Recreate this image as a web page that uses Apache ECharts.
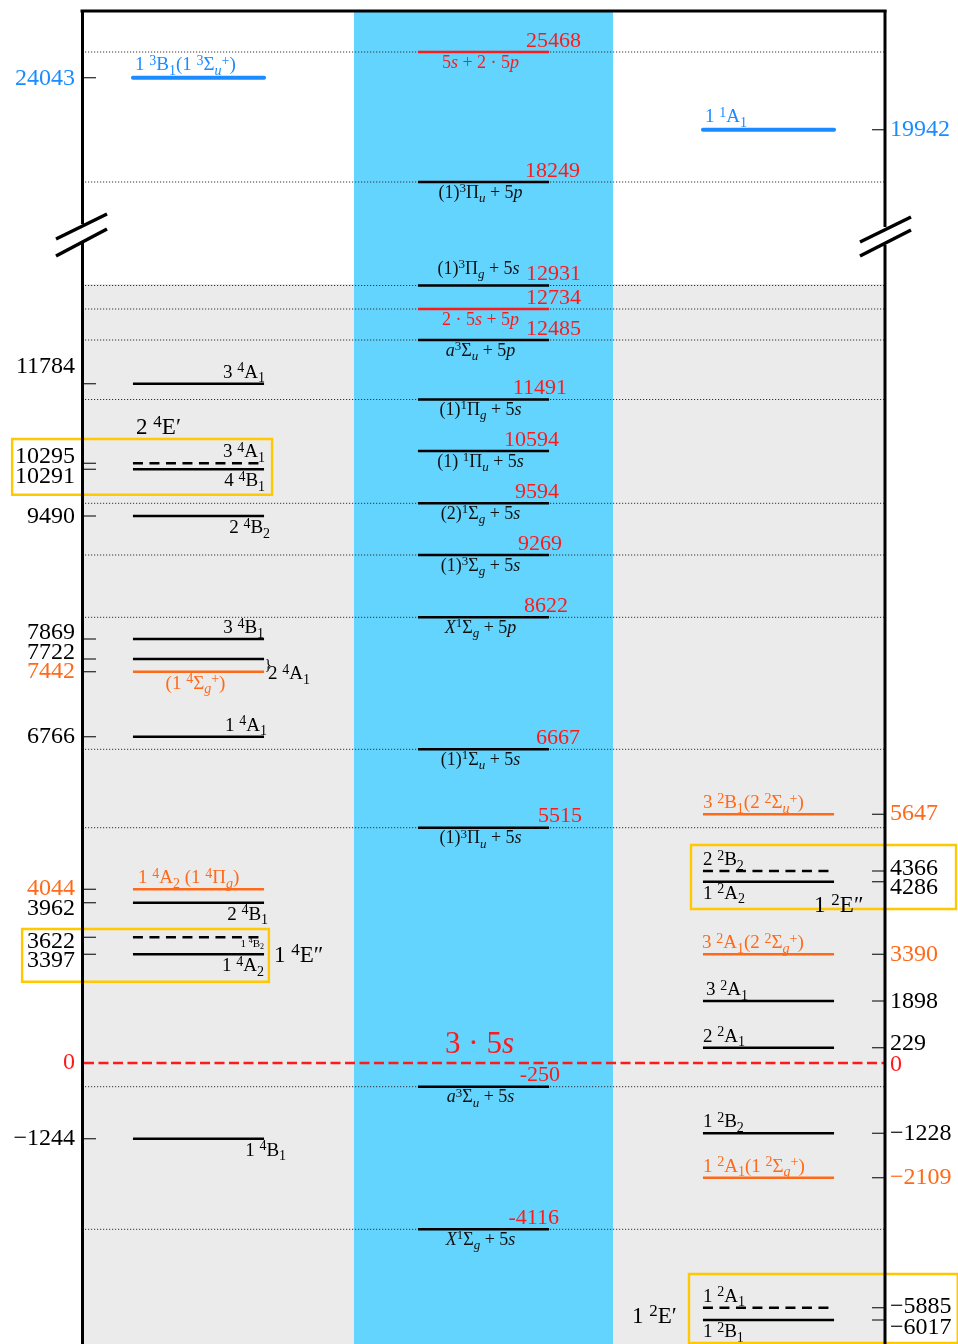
<!DOCTYPE html>
<html>
<head>
<meta charset="utf-8">
<script src="https://cdn.jsdelivr.net/npm/echarts@6/dist/echarts.min.js"></script>
<style>html,body{margin:0;padding:0;background:#fff}#c{width:958px;height:1344px}</style>
</head>
<body>
<div id="c"></div>
<script>
// ================= DATA =================
// Left column: quartet (and high-lying) states of the trimer, energies in cm^-1,
// with their schematic height on the (not-to-scale) level diagram.
const quartetEnergy = [24043, 11784, 10295, 10291, 9490, 7869, 7722, 7442, 6766, 4044, 3962, 3622, 3397, -1244];
const quartetLevel  = [985.3, 679.3, 599.7, 593.7, 547, 424, 404, 391.3, 326.3, 173.7, 160.3, 125.7, 108.7, -75.7];
const quartetState  = ['1 ^3B_1(1 ^3Σ_u^+)', '3 ^4A_1', '3 ^4A_1', '4 ^4B_1', '2 ^4B_2', '3 ^4B_1', '2 ^4A_1',
                       '(1 ^4Σ_g^+)', '1 ^4A_1', '1 ^4A_2 (1 ^4Π_g)', '2 ^4B_1', '1 ^4B_2', '1 ^4A_2', '1 ^4B_1'];
const quartetKind   = ['upper', 'plain', 'partner', 'plain', 'plain', 'plain', 'plain',
                       'linear', 'plain', 'linear', 'plain', 'partner', 'plain', 'plain'];

// Middle column: atom + dimer asymptotes
const asymEnergy = [25468, 18249, 12931, 12734, 12485, 11491, 10594, 9594, 9269, 8622, 6667, 5515, -250, -4116];
const asymLevel  = [1011, 881, 777.5, 754, 723, 663.5, 612, 559.7, 508, 445.7, 313.7, 235.3, -23.7, -166.3];
const asymName   = ['5s + 2 · 5p', '(1)^3Π_u + 5p', '(1)^3Π_g + 5s', '2 · 5s + 5p', 'a^3Σ_u + 5p',
                    '(1)^1Π_g + 5s', '(1) ^1Π_u + 5s', '(2)^1Σ_g + 5s', '(1)^3Σ_g + 5s', 'X^1Σ_g + 5p',
                    '(1)^1Σ_u + 5s', '(1)^3Π_u + 5s', 'a^3Σ_u + 5s', 'X^1Σ_g + 5s'];
const asymKind   = ['atomic', 'dimer', 'dimer', 'atomic', 'dimer', 'dimer', 'dimer', 'dimer', 'dimer',
                    'dimer', 'dimer', 'dimer', 'dimer', 'dimer'];
// reference asymptote (three ground-state atoms)
const referenceEnergy = 0;
const referenceLevel = 0;
const referenceName = '3 · 5s';

// Right column: doublet (and high-lying) states
const doubletEnergy = [19942, 5647, 4366, 4286, 3390, 1898, 229, -1228, -2109, -5885, -6017];
const doubletLevel  = [933.3, 248.7, 192, 181.3, 108.7, 62, 15.3, -70.3, -114.7, -244.7, -257];
const doubletState  = ['1 ^1A_1', '3 ^2B_1(2 ^2Σ_u^+)', '2 ^2B_2', '1 ^2A_2', '3 ^2A_1(2 ^2Σ_g^+)', '3 ^2A_1',
                       '2 ^2A_1', '1 ^2B_2', '1 ^2A_1(1 ^2Σ_g^+)', '1 ^2A_1', '1 ^2B_1'];
const doubletKind   = ['upper', 'linear', 'partner', 'plain', 'linear', 'plain', 'plain', 'plain', 'linear',
                       'partner', 'plain'];

// Degenerate E states (pairs of level indices within a column)
const eStateName    = ['2 ^4E′', '1 ^4E″', '1 ^2E″', '1 ^2E′'];
const eStateColumn  = [0, 0, 2, 2];
const eStateMembers = [[2, 3], [11, 12], [2, 3], [9, 10]];

// ================= LAYOUT / STYLE =================
const SERIF = 'Liberation Serif';
const HALF = 0.23;          // half width of a level line (x-axis units)
const BAND_HALF = 0.4544;   // half width of the blue asymptote band
const SHADE_TOP = 779;      // start of grey shading (diagram units)
const RED = '#ff1a1a';
const LINE_STYLE = {
  plain:   {color: '#000', width: 2.6},
  partner: {color: '#000', width: 2.6, dash: [10, 6.5]},
  linear:  {color: '#ff6a1a', width: 2.6},
  upper:   {color: '#1a8cff', width: 4, cap: 'round'},
  atomic:  {color: RED, width: 2.6},
  dimer:   {color: '#000', width: 2.6}
};
const TEXT_COLOR = {plain: '#000', partner: '#000', linear: '#ff6a1a', upper: '#1a8cff', atomic: RED, dimer: '#111'};
// [anchor, dx(px), fontSize]
const quartetLabelLayout = [['al', 2], ['ar', 1], ['ar', 1], ['br', 1], ['br', 6], ['ar', 0], ['brace', 0],
  ['bc', -3], ['ar', 3], ['al', 5], ['br', 4], ['br', 0, 11], ['br', 0], ['br', 22]];
const asymLabelLayout = asymName.map((_, k) => k === 2 ? ['ac', -5] : ['bc', -3]);
const asymValueDx = [32, 31, 32, 32, 32, 18, 10, 10, 13, 19, 31, 33, 11, 10];
const asymGuide = [1, 1, 1, 1, 1, 1, 0, 1, 1, 1, 1, 1, 1, 1];
const doubletLabelLayout = [['al', 2], ['al', 0], ['al', 0], ['bl', 0], ['al', -1], ['al', 3], ['al', 0],
  ['al', 0], ['al', 0], ['al', 0], ['bl', 0]];
const quartetTickDy = [1, -17, -6.6, 7.4, 1, -6, -6, 0, 0, -1, 6, 4, 6, 0];
const doubletTickDy = [0, -1, -2, 6, 0, 1, -4, 0, 0, -1, 8];
const eBoxLayout = [
  {x0: -0.654, x1: 0.258, padTop: 24.3, padBottom: 25.4, lx: -0.219, ly: -11},
  {x0: -0.619, x1: 0.247, padTop: 8.3, padBottom: 27.4, lx: 0.265, ly: 27},
  {x0: 1.728, x1: 2.658, padTop: 26, padBottom: 27.3, lx: 2.16, ly: 61},
  {x0: 1.721, x1: 2.664, padTop: 33.7, padBottom: 23, lx: 1.521, ly: 43}
];

const columns = [
  {energy: quartetEnergy, level: quartetLevel, name: quartetState, kind: quartetKind, layout: quartetLabelLayout, fs: 19},
  {energy: asymEnergy, level: asymLevel, name: asymName, kind: asymKind, layout: asymLabelLayout, fs: 18},
  {energy: doubletEnergy, level: doubletLevel, name: doubletState, kind: doubletKind, layout: doubletLabelLayout, fs: 19}
];

// ---- mini TeX-like markup -> ECharts rich text ----
function texRich(src, size, color) {
  const sub = Math.round(size * 0.72);
  const base = {fontFamily: SERIF, fill: color, color: color};
  const pad = Math.round(size * 0.08);
  const rich = {
    n:  Object.assign({}, base, {fontSize: size, lineHeight: Math.round(size * 1.35)}),
    i:  Object.assign({}, base, {fontSize: size, lineHeight: Math.round(size * 1.35), fontStyle: 'italic'}),
    sn: Object.assign({}, base, {fontSize: sub, verticalAlign: 'top', padding: [pad, 0, 0, 0]}),
    si: Object.assign({}, base, {fontSize: sub, verticalAlign: 'top', fontStyle: 'italic', padding: [pad, 0, 0, 0]}),
    bn: Object.assign({}, base, {fontSize: sub, verticalAlign: 'bottom'}),
    bi: Object.assign({}, base, {fontSize: sub, verticalAlign: 'bottom', fontStyle: 'italic'})
  };
  let out = '';
  const emit = (txt, mode) => {
    let run = '', runIt = null;
    for (const ch of txt) {
      const it = /[a-zX]/.test(ch);
      if (runIt !== null && it !== runIt) { out += '{' + mode + (runIt ? 'i' : 'n') + '|' + run + '}'; run = ''; }
      run += ch; runIt = it;
    }
    if (run) out += '{' + mode + (runIt ? 'i' : 'n') + '|' + run + '}';
  };
  let i = 0;
  while (i < src.length) {
    const ch = src[i];
    if (ch === '^' || ch === '_') {
      let grp;
      if (src[i + 1] === '{') { const j = src.indexOf('}', i + 2); grp = src.slice(i + 2, j); i = j + 1; }
      else { grp = src[i + 1]; i += 2; }
      emit(grp, ch === '^' ? 's' : 'b');
    } else {
      let j = i;
      while (j < src.length && src[j] !== '^' && src[j] !== '_') j++;
      emit(src.slice(i, j), '');
      i = j;
    }
  }
  return {text: out, rich: rich};
}
function richText(x, y, src, size, color, align, va) {
  const t = texRich(src, size, color);
  return {type: 'text', style: {text: t.text, rich: t.rich, x: x, y: y, align: align, verticalAlign: va,
    fontFamily: SERIF, fontSize: size, fill: color}};
}
function levelLabel(pos, dx, xL, xR, y, src, size, color, lift) {
  let x, ty, align, va;
  switch (pos) {
    case 'ar': x = xR + dx; ty = y + 2 - lift; align = 'right'; va = 'bottom'; break;
    case 'br': x = xR + dx; ty = y - 1; align = 'right'; va = 'top'; break;
    case 'al': x = xL + dx; ty = y + 2 - lift; align = 'left'; va = 'bottom'; break;
    case 'bl': x = xL + dx; ty = y - 1; align = 'left'; va = 'top'; break;
    case 'bc': x = (xL + xR) / 2 + dx; ty = y - 1; align = 'center'; va = 'top'; break;
    case 'ac': x = (xL + xR) / 2 + dx; ty = y - 4; align = 'center'; va = 'bottom'; break;
    case 'brace': x = xR + 4 + dx; ty = y + 15; align = 'left'; va = 'middle'; break;
  }
  return richText(x, ty, src, size, color, align, va);
}
const fmtAxis = v => (v < 0 ? '\u2212' + Math.abs(v) : String(v));

const levelData = [];
columns.forEach((c, ci) => c.level.forEach((h, k) => levelData.push([ci, h, ci, k])));

const chart = echarts.init(document.getElementById('c'), null, {renderer: 'canvas'});
chart.setOption({
  animation: false,
  grid: {left: 82, right: 73, top: 11, bottom: 0},
  xAxis: {type: 'value', min: -0.4088, max: 2.4088, show: false},
  yAxis: {type: 'value', min: -281, max: 1052, show: false},
  series: [
    { // background shading and the asymptote band
      type: 'custom', z: 1, silent: true, data: [[1, SHADE_TOP]],
      renderItem(params, api) {
        const cs = params.coordSys;
        const yTop = api.coord([1, api.value(1)])[1];
        const b0 = api.coord([1 - BAND_HALF, 0])[0], b1 = api.coord([1 + BAND_HALF, 0])[0];
        return {type: 'group', children: [
          {type: 'rect', shape: {x: cs.x, y: yTop, width: cs.width, height: cs.y + cs.height - yTop}, style: {fill: '#ebebeb'}},
          {type: 'rect', shape: {x: b0, y: cs.y, width: b1 - b0, height: cs.height}, style: {fill: '#63d4fd'}}
        ]};
      }
    },
    { // dotted guide lines through asymptotes
      type: 'custom', z: 2, silent: true,
      data: asymLevel.map((h, k) => [1, h, asymGuide[k]]),
      renderItem(params, api) {
        if (!api.value(2)) return null;
        const cs = params.coordSys;
        const y = api.coord([1, api.value(1)])[1];
        return {type: 'line', shape: {x1: cs.x, y1: y, x2: cs.x + cs.width, y2: y},
          style: {stroke: '#333', lineWidth: 1, lineDash: [1.2, 1.8]}};
      }
    },
    { // reference asymptote 3·5s (zero of energy)
      type: 'custom', z: 3, silent: true, data: [[1, referenceLevel, referenceEnergy]],
      renderItem(params, api) {
        const cs = params.coordSys;
        const p = api.coord([1, api.value(1)]);
        return {type: 'group', children: [
          {type: 'line', shape: {x1: cs.x + 2, y1: p[1], x2: cs.x + cs.width, y2: p[1]},
            style: {stroke: RED, lineWidth: 2.5, lineDash: [10, 4.5]}},
          richText(p[0] - 4, p[1] + 2.5, referenceName, 31, RED, 'center', 'bottom'),
          {type: 'text', style: {text: fmtAxis(api.value(2)), x: cs.x - 7, y: p[1], align: 'right', verticalAlign: 'middle',
            fontFamily: SERIF, fontSize: 24, fill: RED}},
          {type: 'text', style: {text: fmtAxis(api.value(2)), x: cs.x + cs.width + 5, y: p[1] + 2, align: 'left', verticalAlign: 'middle',
            fontFamily: SERIF, fontSize: 24, fill: RED}}
        ]};
      }
    },
    { // energy levels with state labels
      type: 'custom', z: 4, silent: true, data: levelData,
      renderItem(params, api) {
        const ci = api.value(2), k = api.value(3);
        const col = columns[ci];
        const kind = col.kind[k];
        const st = LINE_STYLE[kind];
        const a = api.coord([api.value(0) - HALF, api.value(1)]);
        const b = api.coord([api.value(0) + HALF, api.value(1)]);
        const y = a[1];
        const children = [{type: 'line', shape: {x1: a[0], y1: y, x2: b[0], y2: y},
          style: {stroke: st.color, lineWidth: st.width, lineDash: st.dash || null, lineCap: st.cap || 'butt'}}];
        const lay = col.layout[k];
        const lift = kind === 'upper' ? 1.5 : 0;
        children.push(levelLabel(lay[0], lay[1], a[0], b[0], y, col.name[k], lay[2] || col.fs, TEXT_COLOR[kind], lift));
        if (lay[0] === 'brace') {
          children.push({type: 'text', style: {text: '}', x: b[0] + 0.5, y: y + 6.5, align: 'left', verticalAlign: 'middle',
            fontFamily: SERIF, fontSize: 15, fill: '#000'}});
        }
        if (ci === 1) {
          children.push({type: 'text', style: {text: String(col.energy[k]), x: b[0] + asymValueDx[k], y: y,
            align: 'right', verticalAlign: 'bottom', fontFamily: SERIF, fontSize: 22, fill: RED}});
        }
        return {type: 'group', children: children};
      }
    },
    { // axis ticks and energy labels for the side columns
      type: 'custom', z: 5, silent: true,
      data: quartetLevel.map((h, k) => [0, h, 0, k]).concat(doubletLevel.map((h, k) => [2, h, 2, k])),
      renderItem(params, api) {
        const cs = params.coordSys;
        const isLeft = api.value(2) === 0, k = api.value(3);
        const y = api.coord([api.value(0), api.value(1)])[1];
        const energy = isLeft ? quartetEnergy[k] : doubletEnergy[k];
        const kind = isLeft ? quartetKind[k] : doubletKind[k];
        const dy = isLeft ? quartetTickDy[k] : doubletTickDy[k];
        const x0 = isLeft ? cs.x + 2 : cs.x + cs.width - 13;
        const x1 = isLeft ? cs.x + 14 : cs.x + cs.width - 1;
        return {type: 'group', children: [
          {type: 'line', shape: {x1: x0, y1: y, x2: x1, y2: y}, style: {stroke: '#333', lineWidth: 1.3}},
          {type: 'text', style: {text: fmtAxis(energy), x: isLeft ? cs.x - 7 : cs.x + cs.width + 5, y: y + dy,
            align: isLeft ? 'right' : 'left', verticalAlign: 'middle', fontFamily: SERIF, fontSize: 24,
            fill: TEXT_COLOR[kind] === '#111' ? '#000' : TEXT_COLOR[kind]}}
        ]};
      }
    },
    { // boxes around degenerate E-state pairs
      type: 'custom', z: 6, silent: true, data: eStateName.map((n, g) => [g]),
      renderItem(params, api) {
        const g = api.value(0);
        const col = columns[eStateColumn[g]];
        const m = eStateMembers[g];
        const L = eBoxLayout[g];
        const yA = api.coord([0, col.level[m[0]]])[1], yB = api.coord([0, col.level[m[1]]])[1];
        const xa = api.coord([L.x0, 0])[0], xb = api.coord([L.x1, 0])[0];
        const top = yA - L.padTop, bottom = yB + L.padBottom;
        const lx = api.coord([L.lx, 0])[0];
        return {type: 'group', children: [
          {type: 'rect', shape: {x: xa, y: top, width: xb - xa, height: bottom - top},
            style: {fill: 'none', stroke: '#ffc800', lineWidth: 2.4}},
          richText(lx, top + L.ly, eStateName[g], 23, '#000', 'left', 'middle')
        ]};
      }
    }
  ],
  graphic: [
    {type: 'line', z: 100, shape: {x1: 80.5, y1: 11, x2: 886.5, y2: 11}, style: {stroke: '#000', lineWidth: 3}},
    {type: 'line', z: 100, shape: {x1: 82.5, y1: 10, x2: 82.5, y2: 224}, style: {stroke: '#000', lineWidth: 3}},
    {type: 'line', z: 100, shape: {x1: 82.5, y1: 243, x2: 82.5, y2: 1344}, style: {stroke: '#000', lineWidth: 3}},
    {type: 'line', z: 100, shape: {x1: 885, y1: 10, x2: 885, y2: 227}, style: {stroke: '#000', lineWidth: 3}},
    {type: 'line', z: 100, shape: {x1: 885, y1: 245, x2: 885, y2: 1344}, style: {stroke: '#000', lineWidth: 3}},
    {type: 'line', z: 100, shape: {x1: 56, y1: 239, x2: 107, y2: 214}, style: {stroke: '#000', lineWidth: 3.5}},
    {type: 'line', z: 100, shape: {x1: 56, y1: 256, x2: 107, y2: 229}, style: {stroke: '#000', lineWidth: 3.5}},
    {type: 'line', z: 100, shape: {x1: 860, y1: 242, x2: 911, y2: 217}, style: {stroke: '#000', lineWidth: 3.5}},
    {type: 'line', z: 100, shape: {x1: 860, y1: 256, x2: 911, y2: 230}, style: {stroke: '#000', lineWidth: 3.5}}
  ]
});
</script>
</body>
</html>
